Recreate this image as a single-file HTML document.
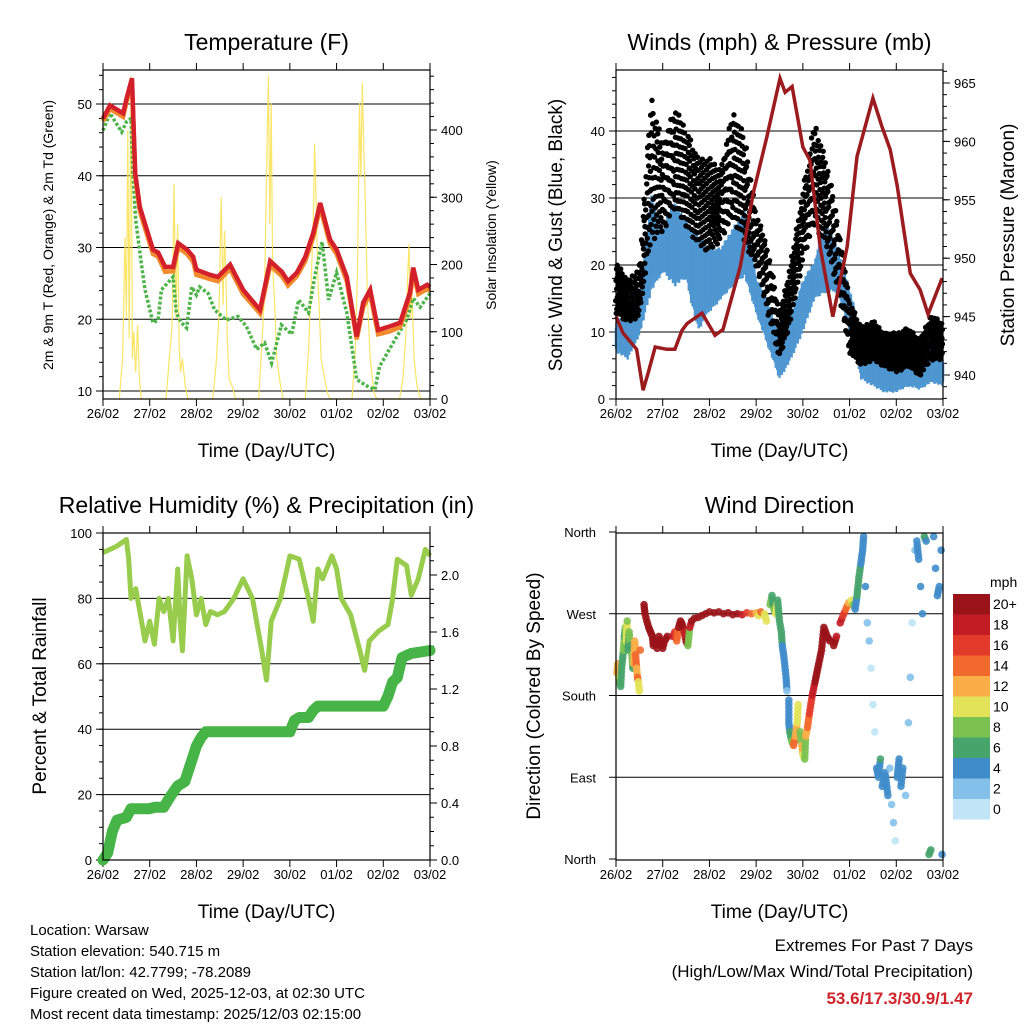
<!DOCTYPE html>
<html><head><meta charset="utf-8"><style>
html,body{margin:0;padding:0;background:#fff;}
svg{display:block;font-family:"Liberation Sans",sans-serif;}
</style></head><body>
<svg id="c" width="1024" height="1024" viewBox="0 0 1024 1024" xmlns="http://www.w3.org/2000/svg">
<g id="g"></g>
<g font-size="15" fill="#000">
<text x="30" y="935">Location: Warsaw</text>
<text x="30" y="956">Station elevation: 540.715 m</text>
<text x="30" y="977">Station lat/lon: 42.7799; -78.2089</text>
<text x="30" y="998">Figure created on Wed, 2025-12-03, at 02:30 UTC</text>
<text x="30" y="1019">Most recent data timestamp: 2025/12/03 02:15:00</text>
</g>
<g font-size="17" text-anchor="end">
<text x="973" y="951">Extremes For Past 7 Days</text>
<text x="973" y="977">(High/Low/Max Wind/Total Precipitation)</text>
<text x="973" y="1004" fill="#d0242a" font-weight="bold">53.6/17.3/30.9/1.47</text>
</g>
</svg>
<script>
// ---- data ----
const dayLabels=["26/02","27/02","28/02","29/02","30/02","01/02","02/02","03/02"];
const tDays=[0,0.15,0.43,0.51,0.62,0.69,0.79,1.07,1.18,1.33,1.5,1.61,1.8,1.93,2.0,2.29,2.46,2.72,3.0,3.36,3.58,3.83,3.96,4.15,4.33,4.5,4.65,4.86,5.0,5.22,5.43,5.57,5.72,5.89,6.14,6.36,6.57,6.64,6.75,6.94,7];
const temp2m=[48.0,49.8,48.7,50.9,53.6,40.4,35.6,29.7,29.3,27.3,27.3,30.6,29.7,28.7,26.9,26.2,25.9,27.6,24.1,21.3,28.1,26.6,25.3,26.5,28.7,32,36.2,31.1,29.7,25.9,17.6,22.3,24.1,18.5,19.0,19.5,23.7,27.2,24.1,24.8,24.5];
const temp9m=[47.6,49.3,48.2,50.4,53.0,39.8,35.0,29.1,28.7,26.6,26.7,30.0,29.1,28.0,26.2,25.6,25.3,27.0,23.5,20.8,27.5,26.0,24.7,26.0,28.1,31.4,35.6,30.5,29.1,25.3,17.2,21.7,23.5,17.9,18.3,18.9,23.0,26.5,23.5,24.2,24.0];
const tdDays=[0,0.15,0.4,0.5,0.6,0.64,0.7,0.82,0.9,1.07,1.18,1.25,1.5,1.57,1.68,1.79,1.9,2.0,2.07,2.25,2.39,2.64,2.89,3.07,3.29,3.46,3.61,3.82,4.04,4.19,4.4,4.54,4.69,4.83,5.0,5.22,5.43,5.65,5.82,5.92,6.21,6.5,6.64,6.79,7];
const dewpt=[46.3,48.7,46.1,47.5,48,40.4,33.8,27.8,24.1,19.5,19.9,24.1,25.9,20.9,19.5,18.8,24.5,23.4,24.5,23.6,21.3,19.9,20.4,19,15.8,16.7,13.9,19.2,17.9,22.7,20.9,26.2,30.8,22.7,26.5,20.9,11.6,10.7,10.2,13.4,16.7,19.9,22.9,21.7,23.6];
const solDays=[0.35,0.42,0.47,0.5,0.53,0.56,0.6,0.63,0.66,0.7,0.74,0.78,0.82,0.86,1.0,1.35,1.42,1.48,1.52,1.56,1.6,1.63,1.66,1.7,1.76,1.82,1.9,2.35,2.42,2.48,2.53,2.57,2.6,2.63,2.66,2.7,2.76,2.84,2.9,3.33,3.4,3.46,3.5,3.54,3.57,3.6,3.63,3.67,3.72,3.8,3.86,4.33,4.4,4.46,4.5,4.53,4.56,4.6,4.63,4.67,4.72,4.8,4.86,5.33,5.4,5.45,5.49,5.52,5.55,5.58,5.62,5.66,5.72,5.8,5.86,6.35,6.42,6.48,6.52,6.55,6.58,6.62,6.66,6.72,6.8,6.86,7];
const solar=[0,60,240,120,400,90,480,60,100,40,110,30,0,0,0,0,60,110,320,120,260,80,40,60,20,0,0,0,50,120,300,140,250,180,90,30,20,0,0,0,80,160,330,480,260,440,200,150,60,20,0,0,70,180,260,380,300,180,130,60,40,10,0,0,70,200,440,330,470,380,280,150,60,10,0,0,30,90,180,230,120,150,60,20,0,0,0];
const windDays=[0,0.25,0.5,0.75,1,1.25,1.5,1.75,2,2.25,2.5,2.75,3,3.25,3.5,3.75,4,4.25,4.5,4.75,5,5.25,5.5,5.75,6,6.25,6.5,6.75,7];
const sonicHi=[11.8,12.8,15.8,30.7,25.7,29.7,26.7,24.8,22.7,22.7,25.7,28.2,18.2,14.8,9.9,12.8,17.8,20.7,26.7,22.7,16.7,9.9,7.8,6.9,5.8,6.9,7.8,7.8,5.8];
const sonicLo=[6.9,5.8,9.3,15.8,18.8,16.7,17.8,9.9,12.8,14.8,16.7,18.2,12.8,7.8,2.8,5.8,9.9,14.8,15.8,15.8,9.9,2.8,1.8,0.9,0.9,1.8,1.3,2.4,1.8];
const gustHi=[20.7,17.8,19.7,45.7,38.2,43.6,40.6,36.1,36.1,34.6,43.1,39.7,27.8,22.7,12.8,20.7,31.6,41.6,35.7,26.7,14.8,10.7,11.8,9.9,9.9,10.7,8.8,12.8,11.3];
const gustLo=[12.8,11.3,12.3,23.3,24.8,28.2,25.7,22.7,21.8,23.7,26.7,23.3,19.7,12.8,5.8,11.8,20.7,25.7,22.7,15.8,6.9,4.8,5.8,4.8,3.9,4.8,3.3,5.8,5.8];
const presDays=[0,0.15,0.44,0.58,0.69,0.84,1.09,1.26,1.41,1.52,1.84,2.12,2.29,2.66,2.94,3.23,3.51,3.62,3.77,4.0,4.15,4.37,4.64,4.95,5.16,5.5,5.69,5.87,6.02,6.3,6.51,6.68,6.98];
const pressure=[945.0,943.6,942.2,938.7,940.2,942.4,942.2,942.2,943.8,944.4,945.3,943.4,943.9,949.3,955.6,960.4,965.4,964.2,964.7,959.5,958.4,951,945,951,958.7,963.7,961.3,959.3,956.2,948.7,947.3,945.2,948.3];
const rhDays=[0,0.3,0.5,0.55,0.6,0.7,0.8,0.9,1.0,1.1,1.2,1.3,1.4,1.5,1.6,1.65,1.7,1.8,1.9,2.0,2.1,2.2,2.3,2.45,2.6,2.8,3.0,3.2,3.4,3.5,3.6,3.8,4.0,4.2,4.4,4.5,4.6,4.7,4.9,5.0,5.1,5.3,5.5,5.6,5.7,5.9,6.1,6.2,6.3,6.5,6.6,6.75,6.9,7];
const rh=[94,96,98,92,80,83,75,67,73,66,80,76,80,67,89,73,64,93,86,75,80,72,76,75,76,80,86,80,64,55,73,80,93,92,80,73,89,86,93,89,80,75,64,58,67,70,72,80,92,90,81,86,95,93];
const prDays=[0,0.1,0.2,0.3,0.5,0.6,1.0,1.1,1.3,1.45,1.6,1.75,1.9,2.0,2.1,2.2,2.5,3,3.5,4.0,4.1,4.2,4.4,4.5,4.6,5.0,5.5,6.0,6.1,6.2,6.3,6.4,6.6,7];
const precip=[0,0.05,0.2,0.28,0.3,0.36,0.36,0.37,0.37,0.45,0.52,0.55,0.7,0.8,0.86,0.9,0.9,0.9,0.9,0.9,0.98,1.0,1.0,1.05,1.08,1.08,1.08,1.08,1.15,1.25,1.28,1.42,1.45,1.47];
const dirDays=[0.02,0.04,0.06,0.08,0.10,0.12,0.16,0.18,0.20,0.22,0.24,0.26,0.28,0.30,0.34,0.36,0.38,0.40,0.42,0.44,0.46,0.48,0.50,0.52,0.60,0.62,0.66,0.70,0.74,0.78,0.80,0.84,0.88,0.92,0.96,1.00,1.04,1.10,1.22,1.26,1.30,1.34,1.38,1.42,1.46,1.50,1.54,1.58,1.62,1.68,1.76,1.84,1.92,2.00,2.10,2.20,2.30,2.40,2.50,2.60,2.70,2.80,2.90,3.00,3.05,3.10,3.18,3.22,3.30,3.34,3.38,3.42,3.46,3.50,3.54,3.56,3.60,3.64,3.66,3.70,3.70,3.72,3.76,3.80,3.84,3.88,3.90,3.94,3.98,4.00,4.04,4.06,4.10,4.14,4.20,4.26,4.30,4.34,4.40,4.45,4.52,4.58,4.66,4.72,4.80,4.86,4.92,4.98,5.04,5.08,5.12,5.16,5.20,5.24,5.28,5.30,5.34,5.38,5.42,5.46,5.50,5.54,5.58,5.62,5.66,5.70,5.76,5.82,5.86,5.90,5.94,5.98,6.02,6.06,6.10,6.14,6.20,6.26,6.30,6.34,6.40,6.44,6.48,6.52,6.56,6.60,6.64,6.70,6.74,6.80,6.84,6.88,6.92,6.96,6.98];
const dirDeg=[205,215,200,195,190,210,230,245,255,240,262,230,250,235,225,210,215,240,225,210,200,195,185,230,280,270,262,255,250,245,235,240,232,245,238,232,240,245,245,250,240,255,262,258,250,240,235,255,262,265,266,268,270,272,271,272,270,271,269,270,269,271,270,271,268,272,270,262,280,290,275,270,285,262,250,235,220,200,185,175,150,140,130,125,135,150,170,140,125,115,110,135,145,160,180,195,205,215,230,255,245,240,235,245,260,268,275,282,285,280,275,290,310,325,340,355,300,260,240,210,170,140,100,90,110,80,95,70,100,60,40,20,90,110,80,100,70,150,200,260,340,350,330,300,270,355,350,5,10,355,320,290,300,340,5];
const dirSpd=[12,13,11,8,7,6,8,7,9,10,9,7,8,6,8,7,13,12,14,12,15,10,10,14,20,20,20,20,20,20,20,20,20,20,20,20,20,20,18,16,14,20,20,20,18,20,9,18,20,20,20,20,20,20,20,20,20,20,20,20,18,16,14,12,10,14,10,11,8,7,9,10,6,6,6,5,4,4,3,4,5,6,8,14,12,10,11,9,12,10,9,12,14,16,18,20,20,20,20,20,20,20,20,18,18,16,14,12,10,8,4,6,6,5,5,4,4,3,2,1,1,1,4,4,6,4,4,4,3,2,2,0,4,4,4,4,2,2,2,1,2,4,4,4,4,6,4,6,6,4,4,5,4,4,5];
const speedBins=["0","2","4","6","8","10","12","14","16","18","20+"];
const binColors=["#bfe5f7","#84c1ea","#3f8ccb","#47a46b","#7cc250","#e3e35a","#f9ae47","#f2692d","#e23b2b","#c21d24","#9a1318"];

// ---- helpers ----
const NS="http://www.w3.org/2000/svg";
const G=document.getElementById('g');
function el(tag,attrs,parent,text){const e=document.createElementNS(NS,tag);for(const k in attrs)e.setAttribute(k,attrs[k]);if(text!==undefined)e.textContent=text;(parent||G).appendChild(e);return e;}
function lin(d0,d1,r0,r1){return v=>r0+(v-d0)/(d1-d0)*(r1-r0);}
function pathOf(xs,ys,fx,fy){return xs.map((x,i)=>(i?'L':'M')+fx(x).toFixed(1)+','+fy(ys[i]).toFixed(1)).join('');}
function interp(xs,ys,x){for(let i=1;i<xs.length;i++){if(x<=xs[i]){const t=(x-xs[i-1])/(xs[i]-xs[i-1]);return ys[i-1]+t*(ys[i]-ys[i-1]);}}return ys[ys.length-1];}

function panel(name,x0,x1,y0,y1,title,xtitle){
  const g=el('g',{});
  
  
  const t=el('text',{x:(x0+x1)/2,y:y0-20,'font-size':23,'text-anchor':'middle'},g,title);
  
  
  const xt=el('text',{x:(x0+x1)/2,y:y1+58,'font-size':19,'text-anchor':'middle'},g,xtitle);
  
  
  const fx=lin(0,7,x0,x1);
  for(let i=0;i<dayLabels.length;i++){
    const x=fx(i);
    el('line',{x1:x,x2:x,y1:y1,y2:y1+7,stroke:'#000','stroke-width':1},g);
    el('line',{x1:x,x2:x,y1:y0,y2:y0-7,stroke:'#000','stroke-width':1},g);
    const lb=el('text',{x:x,y:y1+19,'font-size':13,'text-anchor':'middle'},g,dayLabels[i]);
    
    
  }
  return {g,fx};
}
function yTicks(g,vals,fy,x,side,fmt,minorStep,lo,hi){
  const dir=side==='left'?-1:1;
  for(const v of vals){const y=fy(v);
    el('line',{x1:x,x2:x+dir*7,y1:y,y2:y,stroke:'#000'},g);
    const lb=el('text',{x:x+dir*11,y:y+5,'font-size':13,'text-anchor':side==='left'?'end':'start'},g,fmt(v));
    
    }
  if(minorStep){for(let v=lo;v<=hi+1e-9;v+=minorStep){const y=fy(v);el('line',{x1:x,x2:x+dir*4,y1:y,y2:y,stroke:'#000'},g);}}
}
function grid(g,vals,fy,x0,x1){for(const v of vals){const y=fy(v);el('line',{x1:x0,x2:x1,y1:y,y2:y,stroke:'#000','stroke-width':1},g);}}
function frame(g,x0,x1,y0,y1){el('rect',{x:x0,y:y0,width:x1-x0,height:y1-y0,fill:'none',stroke:'#000','stroke-width':1.2},g);}
function vtitle(g,x,y,size,txt,name){const t=el('text',{x:x,y:y,'font-size':size,'text-anchor':'middle',transform:`rotate(-90 ${x} ${y})`},g,txt);}

// ---- Panel 1: Temperature ----
(function(){
  const x0=103,x1=430,y0=70,y1=399;
  const {g,fx}=panel('temperature-chart',x0,x1,y0,y1,'Temperature (F)','Time (Day/UTC)');
  const fy=lin(10,50,391,104);
  const fs=lin(0,400,399,130);
  grid(g,[10,20,30,40,50],fy,x0,x1);
  yTicks(g,[10,20,30,40,50],fy,x0,'left',v=>v,2,10,54);
  yTicks(g,[0,100,200,300,400],fs,x1,'right',v=>v,20,0,480);
  const s=el('path',{d:pathOf(solDays,solar,fx,fs),fill:'none',stroke:'#f9e04b','stroke-width':1.2,'stroke-opacity':0.85},g);
  
  
  const d=el('path',{d:pathOf(tdDays,dewpt,fx,fy),fill:'none',stroke:'#4cb448','stroke-width':3.5,'stroke-dasharray':'3 2'},g);
  
  
  const o=el('path',{d:pathOf(tDays,temp9m,fx,fy),fill:'none',stroke:'#f28a2c','stroke-width':4.5},g);
  
  
  const r=el('path',{d:pathOf(tDays,temp2m,fx,fy),fill:'none',stroke:'#d4202a','stroke-width':4.5},g);
  
  
  frame(g,x0,x1,y0,y1);
  vtitle(g,53,235,14,'2m & 9m T (Red, Orange) & 2m Td (Green)','y-axis-title-left');
  vtitle(g,496,235,14,'Solar Insolation (Yellow)','y-axis-title-right');
})();

// ---- Panel 2: Winds ----
(function(){
  const x0=616,x1=943,y0=70,y1=399;
  const {g,fx}=panel('winds-chart',x0,x1,y0,y1,'Winds (mph) & Pressure (mb)','Time (Day/UTC)');
  const fy=lin(0,40,399,131);
  const fp=lin(940,965,375,83);
  grid(g,[10,20,30,40],fy,x0,x1);
  yTicks(g,[0,10,20,30,40],fy,x0,'left',v=>v,2,0,48);
  yTicks(g,[940,945,950,955,960,965],fp,x1,'right',v=>v,1,938,966);
  const bg=el('g',{},g);
  
  
  let q=0;
  for(let d=0;d<=7;d+=0.01){
    const hi=interp(windDays,sonicHi,d),lo=interp(windDays,sonicLo,d);
    const a=(q*0.618)%1, b=(q*0.382+0.5)%1; q++;
    const top=lo+(hi-lo)*(0.75+0.25*a), bot=lo+(hi-lo)*(0.25*b);
    const x=fx(d);
    el('line',{x1:x,x2:x,y1:fy(bot),y2:fy(top),stroke:'#4f97d1','stroke-width':2.5},bg);
  }
  const gg=el('g',{},g);
  
  
  let k=0;
  for(let d=0;d<=7;d+=0.014){
    const hi=interp(windDays,gustHi,d),lo=interp(windDays,gustLo,d);
    const off=((k*0.7548)%1-0.5)*0.012;
    for(let j=0;j<3;j++){const f=((k*3+j)*0.6180339)%1;
      el('circle',{cx:fx(d+off*(j-1)),cy:fy(lo+f*(hi-lo)),r:2.7,fill:'#000'},gg);}
    k++;
  }
  const p=el('path',{d:pathOf(presDays,pressure,fx,fp),fill:'none',stroke:'#9b1b1e','stroke-width':3.5},g);
  
  
  frame(g,x0,x1,y0,y1);
  vtitle(g,562,235,19,'Sonic Wind & Gust (Blue, Black)','y-axis-title-left');
  vtitle(g,1014,235,19,'Station Pressure (Maroon)','y-axis-title-right');
})();

// ---- Panel 3: RH & Precip ----
(function(){
  const x0=103,x1=430,y0=533,y1=860;
  const {g,fx}=panel('humidity-precip-chart',x0,x1,y0,y1,'Relative Humidity (%) & Precipitation (in)','Time (Day/UTC)');
  const fy=lin(0,100,860,533);
  const fp=lin(0,2.0,860,575);
  grid(g,[20,40,60,80],fy,x0,x1);
  yTicks(g,[0,20,40,60,80,100],fy,x0,'left',v=>v,5,0,100);
  yTicks(g,[0,0.4,0.8,1.2,1.6,2.0],fp,x1,'right',v=>v.toFixed(1),0.1,0,2.2);
  const r=el('path',{d:pathOf(rhDays,rh,fx,fy),fill:'none',stroke:'#98cc4c','stroke-width':5,'stroke-linejoin':'round'},g);
  
  
  const p=el('path',{d:pathOf(prDays,precip,fx,fp),fill:'none',stroke:'#46b446','stroke-width':11,'stroke-linejoin':'round','stroke-linecap':'round'},g);
  
  
  frame(g,x0,x1,y0,y1);
  vtitle(g,46,696,19,'Percent & Total Rainfall','y-axis-title-left');
})();

// ---- Panel 4: Wind Direction ----
(function(){
  const x0=616,x1=943,y0=533,y1=860;
  const {g,fx}=panel('wind-direction-chart',x0,x1,y0,y1,'Wind Direction','Time (Day/UTC)');
  const fy=lin(0,360,859,532);
  const dirVals=[0,90,180,270,360];
  const dirNames=["North","East","South","West","North"];
  grid(g,[90,180,270],fy,x0,x1);
  dirVals.forEach((v,i)=>{const y=fy(v);el('line',{x1:x0,x2:x0-7,y1:y,y2:y,stroke:'#000'},g);
    const lb=el('text',{x:x0-20,y:y+5,'font-size':13,'text-anchor':'end'},g,dirNames[i]);
    
    });
  const pg=el('g',{},g);
  
  
  for(let i=0;i<dirDays.length;i++){
    const bin=Math.min(10,Math.floor(dirSpd[i]/2));
    el('circle',{cx:fx(dirDays[i]),cy:fy(dirDeg[i]),r:3.8,fill:binColors[bin],'fill-opacity':0.9},pg);
    if(i+1<dirDays.length && dirSpd[i]>=4){
      const dd=dirDays[i+1]-dirDays[i], da=dirDeg[i+1]-dirDeg[i];
      if(dd<0.07 && Math.abs(da)<30){
        const n=Math.max(1,Math.ceil(Math.hypot(fx(dirDays[i+1])-fx(dirDays[i]),fy(dirDeg[i+1])-fy(dirDeg[i]))/4));
        for(let s=1;s<n;s++){const t=s/n;
          el('circle',{cx:fx(dirDays[i]+t*dd),cy:fy(dirDeg[i]+t*da),r:3.8,fill:binColors[bin],'fill-opacity':0.9},pg);}
      }
    }
  }
  frame(g,x0,x1,y0,y1);
  vtitle(g,540,696,19,'Direction (Colored By Speed)','y-axis-title-left');
  const cb=el('g',{},g);
  
  
  el('text',{x:990,y:587,'font-size':14},cb,'mph');
  const top=594,h=20.5;
  for(let i=0;i<speedBins.length;i++){
    const idx=speedBins.length-1-i;
    el('rect',{x:953,y:top+i*h,width:37,height:h,fill:binColors[idx]},cb);
    const lb=el('text',{x:993,y:top+i*h+15,'font-size':14},cb,speedBins[idx]);
    
    
  }
})();
</script>
</body></html>
